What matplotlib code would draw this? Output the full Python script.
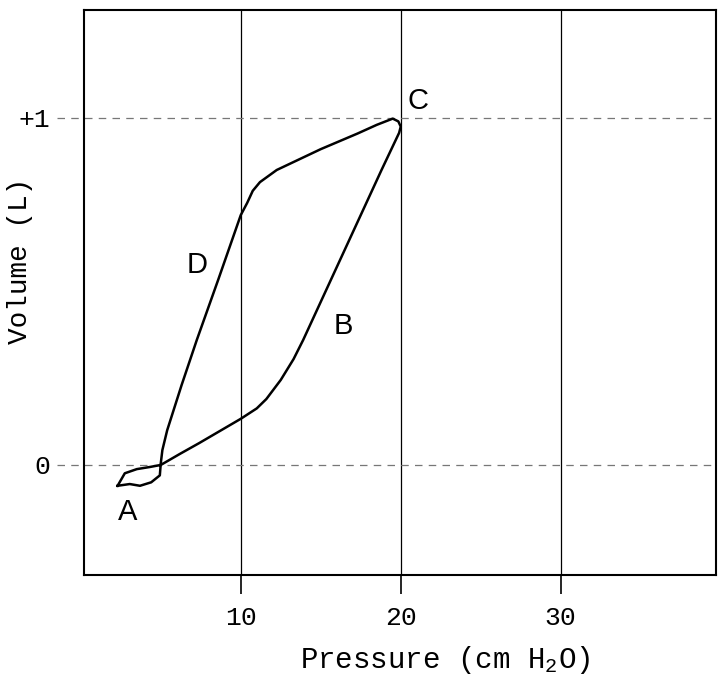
#imports
import matplotlib
matplotlib.use("Agg")
import matplotlib.pyplot as plt

#pressure-volume loop (cm H2O, litres)
pressure = [2.3, 2.75, 3.5, 4.3, 5.0, 6.2, 7.4, 8.7, 10.0, 11.0, 11.6, 12.5,
            13.3, 13.9, 15.5, 17.3, 18.8, 19.9, 20.0, 19.85, 19.5, 18.5,
            17.3, 15.0, 12.25, 11.2, 10.75, 10.4, 10.0, 8.6, 7.25, 6.3,
            5.4, 5.1, 5.0, 4.94, 4.4, 3.7, 3.06, 2.3]
volume = [-0.06, -0.024, -0.012, -0.006, 0.0, 0.032, 0.063, 0.098, 0.133,
          0.163, 0.19, 0.245, 0.305, 0.36, 0.52, 0.70, 0.85, 0.957, 0.975,
          0.99, 0.998, 0.98, 0.955, 0.91, 0.85, 0.815, 0.79, 0.755, 0.72,
          0.535, 0.36, 0.23, 0.10, 0.043, 0.005, -0.03, -0.05, -0.06,
          -0.055, -0.06]

#point labels
labels = ["A", "B", "C", "D"]
label_x = [2.9, 16.4, 21.1, 7.25]
label_y = [-0.135, 0.40, 1.05, 0.576]

#ticks
x_ticks = [10, 20, 30]
y_ticks = [0, 1]
y_tick_labels = ["0", "+1"]

mono = "Liberation Mono"
plt.rcParams['mathtext.fontset'] = 'custom'
plt.rcParams['mathtext.rm'] = mono
plt.rcParams['mathtext.it'] = mono

figure = plt.figure(figsize=(7.18, 6.89), dpi=100)
ax = figure.add_axes([0.117, 0.1655, 0.88, 0.82])

#grid lines: solid verticals, dashed horizontals that poke out to the left
for xv in x_ticks:
    ax.axvline(xv, color="black", linewidth=0.9, zorder=1)
for yv in y_ticks:
    ax.axhline(yv, xmin=-0.043, xmax=1, color="#777777", linewidth=0.9,
               linestyle=(0, (6, 5)), clip_on=False, zorder=1)

#the loop
ax.plot(pressure, volume, color="black", linewidth=1.8, zorder=3)

#letters on the curve
for lab, lx, ly in zip(labels, label_x, label_y):
    ax.text(lx, ly, lab, fontsize=21, family="Liberation Sans",
            ha="center", va="center")

#limits
ax.set_xlim(0.2, 39.7)
ax.set_ylim(-0.317, 1.311)

#ticks
ax.set_xticks(x_ticks)
ax.set_xticklabels([str(t) for t in x_ticks], family=mono, fontsize=19)
ax.set_yticks(y_ticks)
ax.set_yticklabels(y_tick_labels, family=mono, fontsize=19)
ax.tick_params(axis="x", direction="out", length=14, width=1.2, pad=8)
ax.tick_params(axis="y", length=0, pad=24)

for spine in ax.spines.values():
    spine.set_linewidth(1.5)

#axis labels, placed by hand like the original figure
ax.set_xlabel("Pressure (cm H$_2$O)", family=mono, fontsize=21)
ax.xaxis.set_label_coords(0.571, -0.122)
ax.set_ylabel("Volume (L)", family=mono, fontsize=20)
ax.yaxis.set_label_coords(-0.08, 0.556)

figure.savefig("out.png", dpi=100)
